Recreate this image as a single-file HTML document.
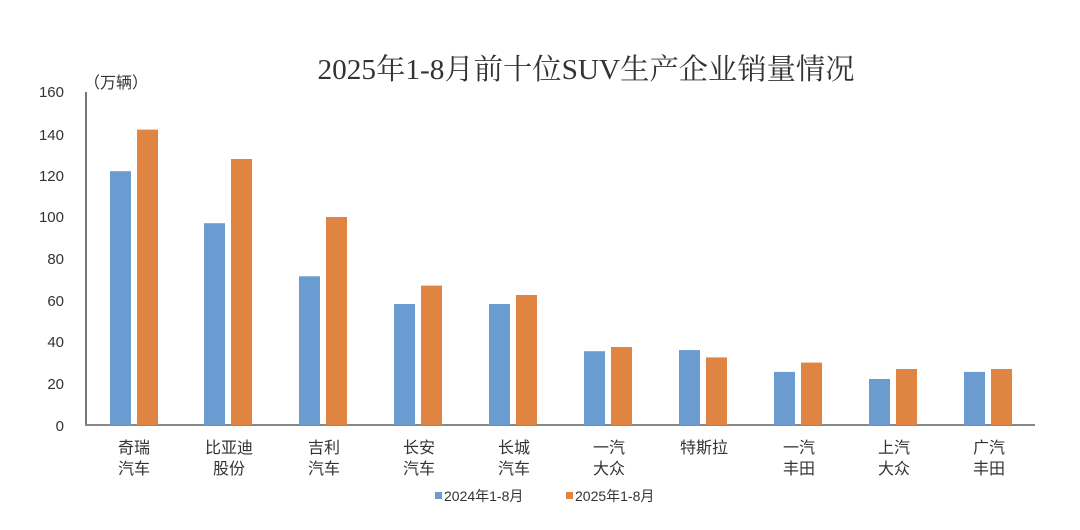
<!DOCTYPE html>
<html><head><meta charset="utf-8"><style>
html,body{margin:0;padding:0;background:#fff;}
svg{display:block;}
text{font-family:"Liberation Sans","Noto Sans CJK SC",sans-serif;fill:#333;}
</style></head><body>
<svg width="1080" height="530" viewBox="0 0 1080 530">
<text x="586" y="79" text-anchor="middle" font-size="29" textLength="537" lengthAdjust="spacingAndGlyphs" style="font-family:'Liberation Serif','Noto Serif CJK SC',serif" fill="#222">2025年1-8月前十位SUV生产企业销量情况</text>
<text x="84" y="88" font-size="16">（万辆）</text>
<g font-size="15" text-anchor="end" fill="#444">
<text x="64" y="97">160</text><text x="64" y="140">140</text><text x="64" y="181">120</text>
<text x="64" y="222">100</text><text x="64" y="264">80</text><text x="64" y="306">60</text>
<text x="64" y="347">40</text><text x="64" y="389">20</text><text x="64" y="431">0</text>
</g>
<line x1="86" y1="92" x2="86" y2="426" stroke="#777" stroke-width="2"/>
<line x1="85" y1="425" x2="1035" y2="425" stroke="#888" stroke-width="2"/>
<g font-size="16" text-anchor="middle">
<text x="134" y="453">奇瑞</text><text x="134" y="474">汽车</text>
<text x="229" y="453">比亚迪</text><text x="229" y="474">股份</text>
<text x="324" y="453">吉利</text><text x="324" y="474">汽车</text>
<text x="419" y="453">长安</text><text x="419" y="474">汽车</text>
<text x="514" y="453">长城</text><text x="514" y="474">汽车</text>
<text x="609" y="453">一汽</text><text x="609" y="474">大众</text>
<text x="704" y="453">特斯拉</text>
<text x="799" y="453">一汽</text><text x="799" y="474">丰田</text>
<text x="894" y="453">上汽</text><text x="894" y="474">大众</text>
<text x="989" y="453">广汽</text><text x="989" y="474">丰田</text>
</g>
<rect x="435" y="492" width="7" height="7" fill="#6a9bd1"/>
<text x="444" y="501" font-size="14">2024年1-8月</text>
<rect x="566" y="492" width="7" height="7" fill="#e08442"/>
<text x="575" y="501" font-size="14">2025年1-8月</text>
<g>
<rect x="110" y="171.2" width="21" height="253.8" fill="#6a9bd1"/><rect x="137" y="129.6" width="21" height="295.4" fill="#e08442"/>
<rect x="204" y="223.2" width="21" height="201.8" fill="#6a9bd1"/><rect x="231" y="159" width="21" height="266" fill="#e08442"/>
<rect x="299" y="276.3" width="21" height="148.7" fill="#6a9bd1"/><rect x="326" y="217" width="21" height="208" fill="#e08442"/>
<rect x="394" y="304" width="21" height="121" fill="#6a9bd1"/><rect x="421" y="285.6" width="21" height="139.4" fill="#e08442"/>
<rect x="489" y="304" width="21" height="121" fill="#6a9bd1"/><rect x="516" y="295" width="21" height="130" fill="#e08442"/>
<rect x="584" y="351.2" width="21" height="73.8" fill="#6a9bd1"/><rect x="611" y="347" width="21" height="78" fill="#e08442"/>
<rect x="679" y="350.1" width="21" height="74.9" fill="#6a9bd1"/><rect x="706" y="357.4" width="21" height="67.6" fill="#e08442"/>
<rect x="774" y="371.9" width="21" height="53.1" fill="#6a9bd1"/><rect x="801" y="362.6" width="21" height="62.4" fill="#e08442"/>
<rect x="869" y="379" width="21" height="46" fill="#6a9bd1"/><rect x="896" y="369" width="21" height="56" fill="#e08442"/>
<rect x="964" y="371.9" width="21" height="53.1" fill="#6a9bd1"/><rect x="991" y="369" width="21" height="56" fill="#e08442"/>
</g>
</svg>
</body></html>
